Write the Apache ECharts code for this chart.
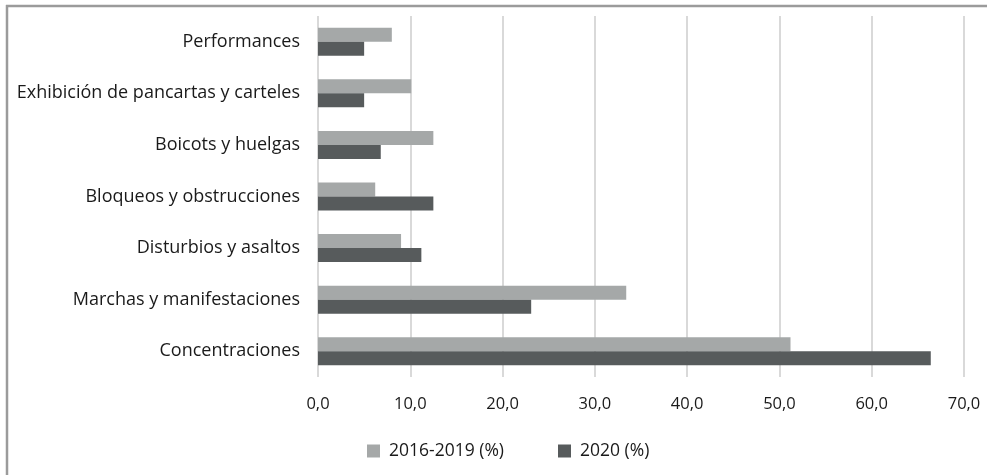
<!DOCTYPE html>
<html>
<head>
<meta charset="utf-8">
<script src="https://cdn.jsdelivr.net/npm/echarts@6/dist/echarts.min.js"></script>
<style>
  html, body { margin: 0; padding: 0; background: #ffffff; }
  #chart { width: 987px; height: 475px; }
</style>
</head>
<body>
<div id="chart"></div>
<script>
// Protest repertoire categories (bottom to top on the axis)
const categories = [
  'Concentraciones',
  'Marchas y manifestaciones',
  'Disturbios y asaltos',
  'Bloqueos y obstrucciones',
  'Boicots y huelgas',
  'Exhibición de pancartas y carteles',
  'Performances'
];
// Share of events (%)
const period2016_2019 = [51.2, 33.4, 9.0, 6.2, 12.5, 10.1, 8.0];
const year2020 = [66.4, 23.1, 11.2, 12.5, 6.8, 5.0, 5.0];
const seriesNames = ['2016-2019 (%)', '2020 (%)'];
const xTicks = { min: 0, max: 70, interval: 10 };

const FONT = '"Open Sans", "Noto Sans", sans-serif';
const chart = echarts.init(document.getElementById('chart'));

chart.setOption({
  backgroundColor: '#ffffff',
  animation: false,
  textStyle: { fontFamily: FONT },
  graphic: [
    { type: 'line', shape: { x1: 6, y1: 6, x2: 987, y2: 6 }, style: { stroke: '#9b9b9b', lineWidth: 2.5 } },
    { type: 'line', shape: { x1: 7, y1: 5, x2: 7, y2: 475 }, style: { stroke: '#9b9b9b', lineWidth: 2.5 } }
  ],
  grid: { left: 318, right: 23, top: 16, bottom: 98, containLabel: false },
  legend: {
    data: seriesNames,
    left: 362,
    top: 437,
    itemWidth: 13,
    itemHeight: 13,
    itemGap: 54,
    icon: 'rect',
    textStyle: { fontSize: 17.5, color: '#1a1a1a', fontFamily: FONT, padding: [0, 0, 0, 4] }
  },
  xAxis: {
    type: 'value',
    min: xTicks.min,
    max: xTicks.max,
    interval: xTicks.interval,
    axisLine: { show: false },
    axisTick: { show: false },
    splitLine: { show: true, lineStyle: { color: '#d9d9d9', width: 2 } },
    axisLabel: {
      margin: 19,
      fontSize: 16.5,
      color: '#1a1a1a',
      fontFamily: FONT,
      formatter: v => v.toFixed(1).replace('.', ',')
    }
  },
  yAxis: {
    type: 'category',
    data: categories,
    axisLine: { show: false },
    axisTick: { show: false },
    axisLabel: { margin: 18, fontSize: 18, color: '#1a1a1a', fontFamily: FONT, lineHeight: 26, verticalAlign: 'middle', padding: [5, 0, 0, 0] }
  },
  series: [
    {
      name: seriesNames[0],
      type: 'bar',
      data: period2016_2019,
      barWidth: 14,
      barGap: '0%',
      itemStyle: { color: '#a5a8a8' }
    },
    {
      name: seriesNames[1],
      type: 'bar',
      data: year2020,
      barWidth: 14,
      barGap: '0%',
      itemStyle: { color: '#575b5c' }
    }
  ]
});
</script>
</body>
</html>
